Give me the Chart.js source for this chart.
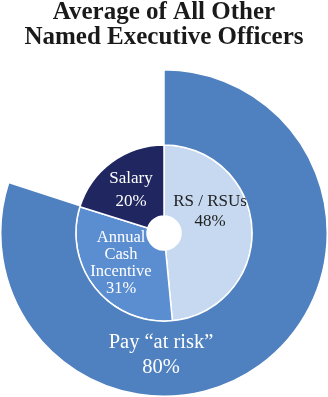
<!DOCTYPE html>
<html>
<head>
<meta charset="utf-8">
<script src="https://cdn.jsdelivr.net/npm/chart.js@4"></script>
<style>
  html, body { margin: 0; padding: 0; background: #fff; }
  #wrap { width: 328px; height: 397px; }
</style>
</head>
<body>
<div id="wrap"><canvas id="chart" width="328" height="397"></canvas></div>
<script>
const TITLE = ['Average of All Other', 'Named Executive Officers'];

// inner pie: components of pay
const categories = [['RS / RSUs'], ['Annual', 'Cash', 'Incentive'], ['Salary']];
const shares = [48, 31, 20];

// outer ring: at-risk pay
const outerCategories = [['Pay \u201cat risk\u201d'], ['']];
const outerShares = [80, 20];

const SERIF = '"Liberation Serif", "Times New Roman", Times, serif';

// label placement relative to the chart centre
const innerLabelStyle = [
    { dx: 46, dy: -21, color: '#222222', size: 17, lh: 20 },
    { dx: -43, dy: 30, color: '#ffffff', size: 16.5, lh: 17 },
    { dx: -33, dy: -43, color: '#ffffff', size: 17, lh: 23 },
];
const outerLabelStyle = [
    { dx: -3, dy: 122, color: '#ffffff', size: 20.5, lh: 25 },
];

const sliceLabels = {
    id: 'sliceLabels',
    afterDatasetsDraw(chart) {
        const ctx = chart.ctx;
        const draw = (meta, cats, values, styles) => {
            styles.forEach((st, i) => {
                const arc = meta.data[i];
                const lines = [...cats[i], values[i] + '%'];
                const cx = arc.x + st.dx;
                const cy = arc.y + st.dy;
                ctx.save();
                ctx.font = `${st.size}px ${SERIF}`;
                ctx.fillStyle = st.color;
                ctx.textAlign = 'center';
                ctx.textBaseline = 'middle';
                const top = cy - (lines.length - 1) * st.lh / 2;
                lines.forEach((l, j) => ctx.fillText(l, cx, top + j * st.lh));
                ctx.restore();
            });
        };
        draw(chart.getDatasetMeta(0), outerCategories, outerShares, outerLabelStyle);
        draw(chart.getDatasetMeta(1), categories, shares, innerLabelStyle);
    }
};

new Chart(document.getElementById('chart').getContext('2d'), {
    type: 'doughnut',
    data: {
        labels: categories.map(c => c.join(' ')),
        datasets: [{
            label: 'At risk',
            data: outerShares,
            backgroundColor: ['#4f80bf', 'rgba(0,0,0,0)'],
            borderColor: ['#ffffff', 'rgba(0,0,0,0)'],
            borderWidth: 1.5,
            weight: 75,
        }, {
            label: 'Pay mix',
            data: shares,
            backgroundColor: ['#c6d9f0', '#5b8ed0', '#1f2660'],
            borderColor: '#ffffff',
            borderWidth: 1.5,
            weight: 71,
        }]
    },
    options: {
        responsive: false,
        maintainAspectRatio: false,
        animation: false,
        cutout: 17,
        layout: { padding: 0 },
        events: [],
        plugins: {
            legend: { display: false },
            tooltip: { enabled: false },
            title: {
                display: true,
                text: TITLE,
                color: '#1a1a1a',
                font: { family: SERIF, size: 25, weight: 'bold', lineHeight: 25 / 25 },
                padding: { top: 0, bottom: 19 },
            }
        }
    },
    plugins: [sliceLabels]
});
</script>
</body>
</html>
